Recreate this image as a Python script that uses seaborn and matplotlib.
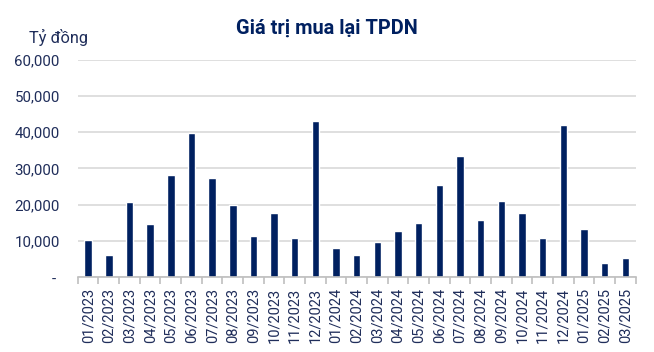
import matplotlib.pyplot as plt
import matplotlib.ticker as mticker
import seaborn as sns
import pandas as pd
import numpy as np

# Dữ liệu: giá trị mua lại TPDN theo tháng (tỷ đồng)
thang = ['01/2023', '02/2023', '03/2023', '04/2023', '05/2023', '06/2023',
         '07/2023', '08/2023', '09/2023', '10/2023', '11/2023', '12/2023',
         '01/2024', '02/2024', '03/2024', '04/2024', '05/2024', '06/2024',
         '07/2024', '08/2024', '09/2024', '10/2024', '11/2024', '12/2024',
         '01/2025', '02/2025', '03/2025']
gia_tri = [10200, 6200, 20700, 14700, 28300, 39800,
           27400, 20000, 11400, 17600, 10900, 43200,
           7900, 6200, 9750, 12700, 14800, 25400,
           33400, 15800, 21000, 17700, 10900, 41900,
           13300, 3800, 5300]
y_ticks = [0, 10000, 20000, 30000, 40000, 50000, 60000]

df = pd.DataFrame({'thang': thang, 'gia_tri': gia_tri})

navy = '#002060'
text_color = '#1f2d5a'

sns.set_style('white')
plt.rcParams['font.family'] = ['Roboto', 'DejaVu Sans']

fig = plt.figure(figsize=(6.54, 3.52), dpi=100)
ax = fig.add_axes([0.119, 0.213, 0.853, 0.617])

sns.barplot(data=df, x='thang', y='gia_tri', color=navy, width=0.36,
            saturation=1, ax=ax)

ax.set_ylim(0, 60000)
ax.set_xlim(-0.5, len(thang) - 0.5)
ax.set_yticks(y_ticks)
ax.yaxis.set_major_formatter(mticker.FuncFormatter(
    lambda v, p: '- ' if v == 0 else f'{v:,.0f}'))
ax.grid(axis='y', color='#d9d9d9', linewidth=1.2)
ax.set_axisbelow(True)

for s in ['top', 'right', 'left']:
    ax.spines[s].set_visible(False)
ax.spines['bottom'].set_color('#bfbfbf')
ax.spines['bottom'].set_linewidth(1.2)

# vạch chia nằm giữa các cột
ax.xaxis.set_minor_locator(mticker.FixedLocator(np.arange(-0.5, len(thang), 1)))
ax.tick_params(axis='x', which='major', length=0, pad=8, labelsize=10.5,
               labelcolor=text_color, labelrotation=90)
ax.tick_params(axis='x', which='minor', length=5, width=1.2, color='#bfbfbf',
               bottom=True)
ax.tick_params(axis='y', length=0, pad=13, labelsize=10.8, labelcolor=text_color)

ax.set_xlabel('')
ax.set_ylabel('')

fig.text(0.5, 0.92, 'Giá trị mua lại TPDN', ha='center', va='center',
         fontsize=14.4, fontweight='bold', color=navy)
fig.text(0.045, 0.893, 'Tỷ đồng', ha='left', va='center', fontsize=11.8,
         color=text_color)

fig.savefig('out.png', dpi=100)
